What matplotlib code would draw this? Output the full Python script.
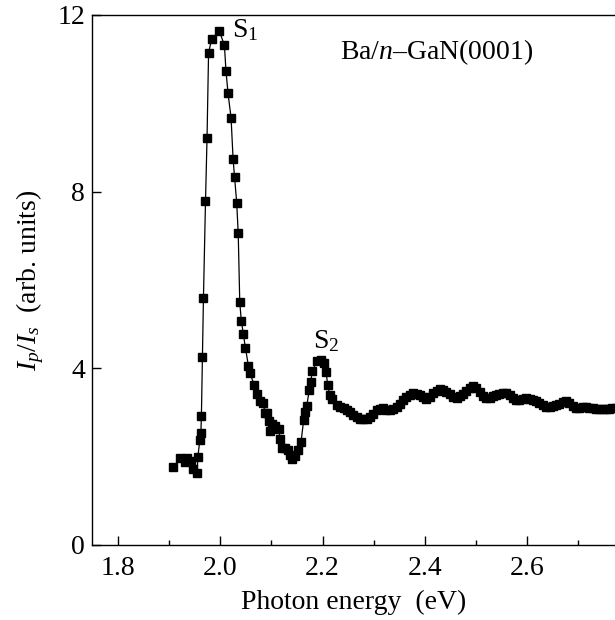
import matplotlib
matplotlib.use("Agg")
import matplotlib.pyplot as plt
from matplotlib.ticker import MultipleLocator

plt.rcParams['font.family'] = ['Liberation Serif', 'DejaVu Serif']
plt.rcParams['mathtext.fontset'] = 'custom'
plt.rcParams['mathtext.rm'] = 'Liberation Serif'
plt.rcParams['mathtext.it'] = 'Liberation Serif:italic'

# Photon energy (eV)
energy = [
    1.908, 1.921, 1.931, 1.934, 1.942, 1.947, 1.955, 1.956, 1.960, 1.962,
    1.963, 1.965, 1.967, 1.971, 1.974, 1.977, 1.983, 1.998, 2.008, 2.011,
    2.015, 2.021, 2.025, 2.028, 2.032, 2.035, 2.038, 2.041, 2.045, 2.049,
    2.055, 2.058, 2.066, 2.072, 2.078, 2.083, 2.088, 2.092, 2.095, 2.098,
    2.101, 2.107, 2.114, 2.117, 2.120, 2.127, 2.133, 2.136, 2.140, 2.146,
    2.151, 2.158, 2.163, 2.166, 2.169, 2.174, 2.177, 2.180, 2.189, 2.197,
    2.202, 2.207, 2.210, 2.214, 2.218,
    2.228, 2.234, 2.241, 2.247, 2.254, 2.260, 2.267, 2.273, 2.280, 2.286,
    2.293, 2.299, 2.306, 2.312, 2.319, 2.325, 2.332, 2.338, 2.345, 2.351,
    2.358, 2.364, 2.371, 2.377, 2.384, 2.390, 2.397, 2.403, 2.410, 2.416,
    2.423, 2.429, 2.436, 2.442, 2.449, 2.455, 2.462, 2.468, 2.475, 2.481,
    2.488, 2.494, 2.501, 2.507, 2.514, 2.520, 2.527, 2.533, 2.540, 2.546,
    2.553, 2.559, 2.566, 2.572, 2.579, 2.585, 2.592, 2.598, 2.605, 2.611,
    2.618, 2.624, 2.631, 2.637, 2.644, 2.650, 2.657, 2.663, 2.670, 2.676,
    2.683, 2.689, 2.696, 2.702, 2.709, 2.715, 2.722, 2.728, 2.735, 2.741,
    2.748, 2.754, 2.761, 2.767, 2.774,
]

# I_p / I_s (arb. units)
ratio = [
    1.76, 1.96, 1.87, 1.96, 1.90, 1.73, 1.64, 1.99, 2.38, 2.54,
    2.93, 4.25, 5.60, 7.78, 9.21, 11.14, 11.45, 11.64, 11.31, 10.74,
    10.23, 9.67, 8.73, 8.32, 7.75, 7.06, 5.50, 5.08, 4.78, 4.47,
    4.05, 3.89, 3.63, 3.41, 3.25, 3.22, 2.99, 2.99, 2.80, 2.59,
    2.74, 2.70, 2.63, 2.40, 2.19, 2.19, 2.16, 2.03, 1.94, 2.01,
    2.16, 2.34, 2.83, 3.01, 3.15, 3.50, 3.70, 3.93, 4.17, 4.19,
    4.11, 3.91, 3.62, 3.39, 3.31,
    3.16, 3.12, 3.09, 3.05, 3.01, 2.95, 2.90, 2.86, 2.85, 2.86,
    2.90, 2.97, 3.05, 3.08, 3.09, 3.06, 3.05, 3.08, 3.12, 3.20,
    3.28, 3.35, 3.40, 3.43, 3.41, 3.39, 3.35, 3.31, 3.36, 3.43,
    3.49, 3.53, 3.50, 3.47, 3.41, 3.35, 3.33, 3.37, 3.41, 3.48,
    3.56, 3.60, 3.55, 3.47, 3.38, 3.32, 3.33, 3.37, 3.39, 3.41,
    3.43, 3.43, 3.39, 3.32, 3.28, 3.29, 3.31, 3.32, 3.31, 3.29,
    3.27, 3.22, 3.16, 3.13, 3.12, 3.14, 3.16, 3.20, 3.24, 3.25,
    3.21, 3.14, 3.10, 3.10, 3.12, 3.12, 3.10, 3.09, 3.08, 3.08,
    3.07, 3.07, 3.08, 3.10, 3.10,
]

xticks = [1.8, 2.0, 2.2, 2.4, 2.6]
xtick_labels = ["1.8", "2.0", "2.2", "2.4", "2.6"]
yticks = [0, 4, 8, 12]
ytick_labels = ["0", "4", "8", "12"]

FS = 20

fig = plt.figure(figsize=(6.15, 6.2), dpi=100)
ax = fig.add_axes([0.1496, 0.121, 0.8504, 0.855])

ax.plot(energy, ratio, color='black', lw=0.9, marker='s', ms=5.2,
        markerfacecolor='black', markeredgecolor='black', clip_on=False)

ax.set_xlim(1.749, 2.772)
ax.set_ylim(0, 12)
ax.set_xticks(xticks)
ax.set_xticklabels(xtick_labels)
ax.set_yticks(yticks)
ax.set_yticklabels(ytick_labels)
ax.xaxis.set_minor_locator(MultipleLocator(0.1))

ax.tick_params(which='both', direction='in', labelsize=FS, top=False, right=False)
ax.tick_params(which='major', length=6.5, width=1)
ax.tick_params(which='minor', length=3.5, width=1)
ax.tick_params(axis='x', pad=8)
ax.tick_params(axis='y', pad=5)

ax.spines['right'].set_visible(False)
for s in ['left', 'bottom', 'top']:
    ax.spines[s].set_linewidth(1.0)

ax.set_xlabel("Photon energy  (eV)", fontsize=FS, labelpad=6)
ax.set_ylabel(r"$I_p/I_s$  (arb. units)", fontsize=FS, labelpad=8)

ax.text(2.023, 11.5, r"S$_1$", fontsize=FS, ha='left', va='baseline')
ax.text(2.181, 4.45, r"S$_2$", fontsize=FS, ha='left', va='baseline')
ax.text(2.424, 11.15, r"Ba/$n$–GaN(0001)", fontsize=FS, ha='center', va='center')

fig.savefig("out.png", dpi=100)
